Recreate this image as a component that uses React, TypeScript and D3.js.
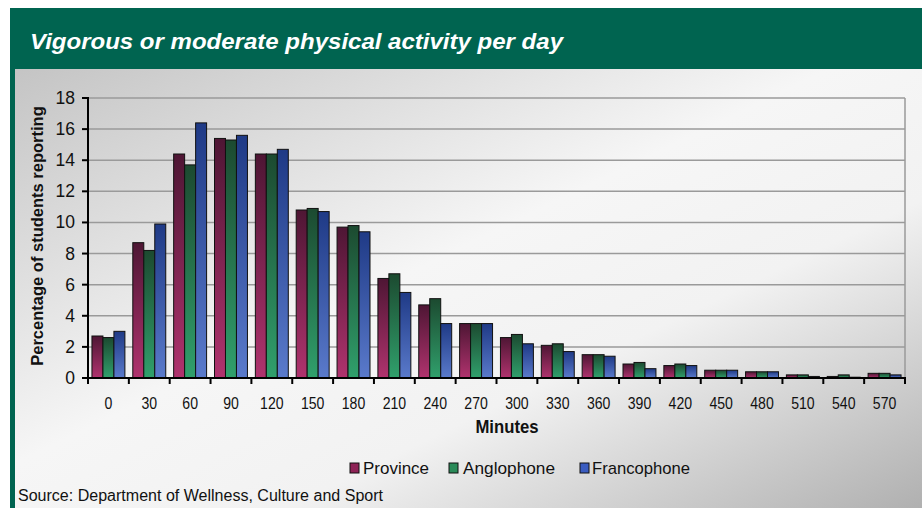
import React from "react";
import * as d3 from "d3";

const categories = ["0","30","60","90","120","150","180","210","240","270","300","330","360","390","420","450","480","510","540","570"];
const province =    [2.7, 8.7, 14.4, 15.4, 14.4, 10.8, 9.7, 6.4, 4.7, 3.5, 2.6, 2.1, 1.5, 0.9, 0.8, 0.5, 0.4, 0.2, 0.1, 0.3];
const anglophone =  [2.6, 8.2, 13.7, 15.3, 14.4, 10.9, 9.8, 6.7, 5.1, 3.5, 2.8, 2.2, 1.5, 1.0, 0.9, 0.5, 0.4, 0.2, 0.2, 0.3];
const francophone = [3.0, 9.9, 16.4, 15.6, 14.7, 10.7, 9.4, 5.5, 3.5, 3.5, 2.2, 1.7, 1.4, 0.6, 0.8, 0.5, 0.4, 0.1, 0.05, 0.2];
const seriesNames = ["Province", "Anglophone", "Francophone"];
const yTicks = [0, 2, 4, 6, 8, 10, 12, 14, 16, 18];

const W = 922, H = 508;
const plot = { left: 88, right: 905, top: 98, bottom: 378 };
const sans = "'Liberation Sans', Arial, sans-serif";

const grads = [
  { id: "gP", top: "#4e1634", bot: "#b0336e", solid: "#8e2356" },
  { id: "gA", top: "#1c4a30", bot: "#30a06c", solid: "#2a8a58" },
  { id: "gF", top: "#1f3a86", bot: "#5a7acb", solid: "#3a5cc0" },
];

export default function App() {
  const data = [province, anglophone, francophone];
  const x = d3.scaleBand<string>().domain(categories).range([plot.left, plot.right]).padding(0);
  const inner = d3.scaleBand<number>().domain([0, 1, 2]).range([0, x.bandwidth()]).paddingInner(0).paddingOuter(0.36);
  const y = d3.scaleLinear().domain([0, 18]).range([plot.bottom, plot.top]);
  const boundaries = categories.map((c) => x(c)!).concat([plot.right]);

  const legendItems = [
    { name: seriesNames[0], sx: 350, tx: 363, tl: 66 },
    { name: seriesNames[1], sx: 449, tx: 463, tl: 92 },
    { name: seriesNames[2], sx: 580, tx: 592, tl: 98 },
  ];

  return (
    <svg width={W} height={H} style={{ position: "absolute", left: 0, top: 0, display: "block" }}>
      <defs>
        <linearGradient id="bg" x1="0" y1="0" x2="1" y2="1">
          <stop offset="0" stopColor="#c4c4c4" />
          <stop offset="0.45" stopColor="#f6f6f6" />
          <stop offset="0.65" stopColor="#f2f2f2" />
          <stop offset="1" stopColor="#b0b0b0" />
        </linearGradient>
        {grads.map((g) => (
          <linearGradient key={g.id} id={g.id} x1="0" y1="0" x2="0" y2="1">
            <stop offset="0" stopColor={g.top} />
            <stop offset="1" stopColor={g.bot} />
          </linearGradient>
        ))}
      </defs>
      <rect x={0} y={0} width={W} height={H} fill="#ffffff" />
      <rect x={14} y={68} width={W - 14} height={H - 68} fill="url(#bg)" />
      <rect x={10} y={8} width={W - 10} height={61} fill="#006450" />
      <rect x={10} y={8} width={5} height={H - 8} fill="#006450" />
      <text x={30} y={49} fill="#ffffff" fontFamily={sans} fontWeight="bold" fontStyle="italic" fontSize={22}
        textLength={533} lengthAdjust="spacingAndGlyphs">
        Vigorous or moderate physical activity per day
      </text>

      {yTicks.filter((t) => t > 0).map((t) => (
        <line key={t} x1={plot.left} x2={plot.right} y1={y(t)} y2={y(t)} stroke="#9a9a9a" strokeWidth={1.5} />
      ))}
      <line x1={plot.right} x2={plot.right} y1={plot.top} y2={plot.bottom} stroke="#9a9a9a" strokeWidth={1.5} />

      {data.map((series, si) =>
        series.map((v, ci) => {
          const bx = x(categories[ci])! + inner(si)!;
          const by = y(v);
          return (
            <rect key={`${si}-${ci}`} x={bx} y={by} width={inner.bandwidth()} height={plot.bottom - by}
              fill={`url(#${grads[si].id})`} stroke="#111" strokeWidth={1} />
          );
        })
      )}

      <line x1={plot.left} x2={plot.left} y1={plot.top - 1} y2={plot.bottom + 1} stroke="#000" strokeWidth={2} />
      <line x1={plot.left - 1} x2={plot.right + 1} y1={plot.bottom} y2={plot.bottom} stroke="#000" strokeWidth={2} />
      {yTicks.map((t) => (
        <g key={t}>
          <line x1={plot.left - 6} x2={plot.left} y1={y(t)} y2={y(t)} stroke="#000" strokeWidth={2} />
          <text x={75} y={y(t) + 6} textAnchor="end" fontFamily={sans} fontSize={17.5} fill="#111">{t}</text>
        </g>
      ))}
      {boundaries.map((bx, i) => (
        <line key={i} x1={bx} x2={bx} y1={plot.bottom} y2={plot.bottom + 6} stroke="#000" strokeWidth={2} />
      ))}
      {categories.map((c) => (
        <text key={c} transform={`translate(${x(c)! + x.bandwidth() / 2}, 409) scale(0.88, 1)`} textAnchor="middle"
          fontFamily={sans} fontSize={16} fill="#111">{c}</text>
      ))}
      <text transform="translate(507, 433) scale(0.88, 1)" textAnchor="middle" fontFamily={sans} fontWeight="bold" fontSize={19} fill="#111">Minutes</text>
      <text transform={`translate(43, ${(plot.top + plot.bottom) / 2 - 2}) rotate(-90)`} textAnchor="middle" fontFamily={sans} fontWeight="bold" fontSize={16.5} fill="#111">
        Percentage of students reporting
      </text>

      {legendItems.map((it, i) => (
        <g key={it.name}>
          <rect x={it.sx} y={463} width={9} height={10} fill={grads[i].solid} stroke="#111" strokeWidth={1} />
          <text x={it.tx} y={473.5} fontFamily={sans} fontSize={17} fill="#111" textLength={it.tl} lengthAdjust="spacingAndGlyphs">{it.name}</text>
        </g>
      ))}

      <text x={18} y={501} fontFamily={sans} fontSize={16} fill="#111" textLength={365} lengthAdjust="spacingAndGlyphs">Source: Department of Wellness, Culture and Sport</text>
    </svg>
  );
}
